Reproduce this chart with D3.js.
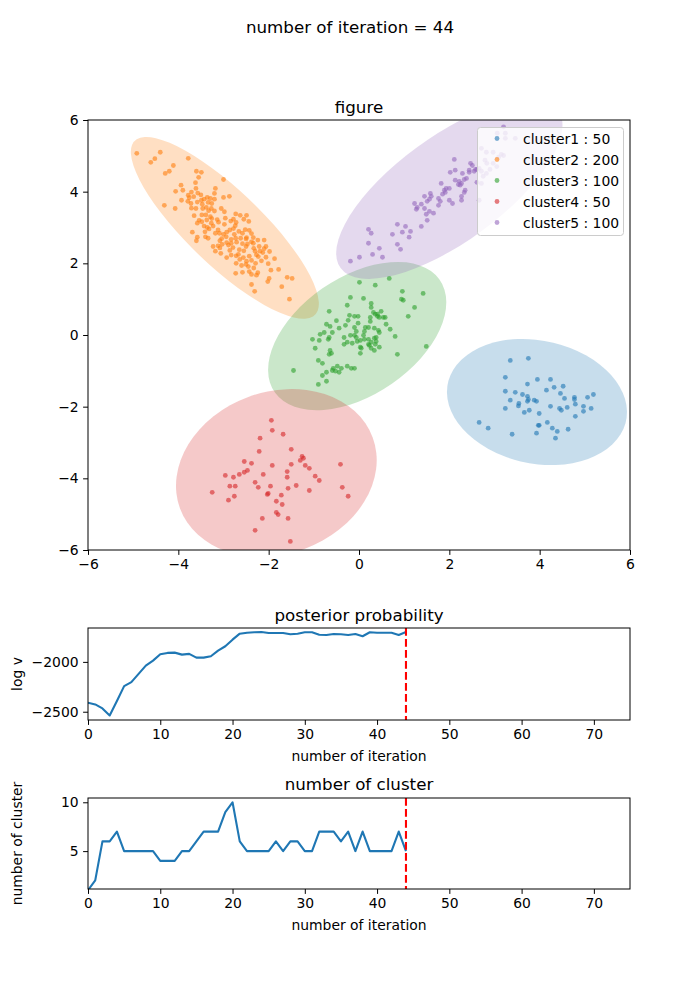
<!DOCTYPE html>
<html><head><meta charset="utf-8">
<script src="https://cdn.jsdelivr.net/npm/d3@7"></script>
<style>body{margin:0;background:#fff}text{font-family:"DejaVu Sans",sans-serif}</style>
</head><body>
<script>
// ---------------- data ----------------
const iterationNow = 44;
const clusterNames = ["cluster1", "cluster2", "cluster3", "cluster4", "cluster5"];
const clusterCounts = [50, 200, 100, 50, 100];
const clusterColors = ["#1f77b4", "#ff7f0e", "#2ca02c", "#d62728", "#9467bd"];

const cluster1Points = [[3.35,-0.71],[3.75,-0.65],[3.24,-1.18],[3.73,-1.37],[3.95,-1.24],[4.24,-1.24],[3.24,-1.57],[3.46,-1.60],[3.62,-1.66],[3.73,-1.71],[4.15,-1.54],[4.32,-1.46],[4.52,-1.43],[4.46,-1.63],[3.35,-1.82],[3.54,-1.91],[3.73,-1.85],[3.75,-1.80],[3.88,-1.82],[3.93,-1.85],[4.55,-1.77],[4.77,-1.74],[4.77,-1.80],[5.06,-1.74],[5.19,-1.66],[3.24,-2.05],[3.53,-1.98],[3.66,-2.16],[3.77,-2.10],[3.99,-2.19],[4.24,-1.99],[4.44,-2.05],[4.48,-2.10],[4.61,-2.02],[4.79,-1.93],[4.97,-1.99],[5.14,-2.05],[4.97,-2.13],[4.79,-2.27],[2.66,-2.44],[2.86,-2.60],[3.39,-2.77],[3.93,-2.74],[3.97,-2.52],[3.99,-2.52],[4.17,-2.44],[4.28,-2.60],[4.39,-2.69],[4.63,-2.63],[4.35,-2.88]];

const cluster2Points = [[-4.92,5.07],[-4.61,4.82],[-4.52,4.92],[-4.40,5.10],[-4.29,4.51],[-4.20,4.57],[-4.11,4.73],[-3.78,4.93],[-3.60,4.57],[-3.49,4.54],[-3.55,4.40],[-3.62,4.25],[-3.00,4.34],[-3.94,4.18],[-4.06,4.01],[-3.90,4.04],[-3.93,3.76],[-3.78,3.90],[-3.76,3.83],[-3.71,3.99],[-3.61,4.09],[-3.57,3.96],[-3.66,3.86],[-3.58,3.71],[-3.72,3.67],[-3.49,3.76],[-3.43,3.79],[-3.36,3.84],[-3.34,3.70],[-3.29,3.81],[-3.20,3.95],[-3.18,4.09],[-3.20,3.79],[-3.26,3.67],[-3.38,3.56],[-3.46,3.53],[-3.33,3.47],[-3.20,3.46],[-3.05,3.53],[-3.00,3.84],[-2.87,3.87],[-4.07,3.53],[-4.31,3.62],[-3.65,3.33],[-3.48,3.35],[-3.54,3.20],[-3.58,3.12],[-3.37,3.21],[-3.29,3.30],[-3.27,3.12],[-3.43,3.04],[-3.36,3.00],[-3.32,2.96],[-3.23,3.04],[-3.14,3.22],[-2.96,3.26],[-2.98,3.09],[-2.86,2.93],[-2.84,3.18],[-2.72,3.14],[-2.63,3.34],[-2.55,3.23],[-2.49,3.34],[-2.44,3.17],[-3.69,2.87],[-3.58,2.73],[-3.40,2.74],[-3.12,2.93],[-3.18,2.84],[-3.09,2.84],[-3.00,2.81],[-2.93,2.87],[-2.78,2.97],[-2.76,2.81],[-2.74,3.05],[-2.66,2.89],[-2.58,2.84],[-2.52,2.94],[-2.43,2.92],[-2.38,2.83],[-2.34,2.72],[-2.49,2.72],[-2.62,2.70],[-2.73,2.70],[-2.83,2.67],[-2.94,2.74],[-3.04,2.69],[-3.23,2.47],[-3.12,2.49],[-3.03,2.53],[-2.93,2.58],[-2.83,2.56],[-2.71,2.59],[-2.58,2.55],[-2.50,2.47],[-2.38,2.60],[-2.34,2.56],[-2.24,2.65],[-2.10,2.65],[-2.21,2.47],[-2.06,2.47],[-1.98,2.33],[-2.13,2.30],[-2.27,2.24],[-2.43,2.20],[-2.55,2.35],[-2.65,2.38],[-2.79,2.44],[-2.86,2.36],[-3.06,2.28],[-3.18,2.34],[-3.08,2.43],[-2.93,2.16],[-2.72,2.21],[-2.56,2.16],[-2.50,1.97],[-2.60,1.94],[-2.72,2.00],[-2.38,2.08],[-2.23,2.19],[-2.06,2.17],[-1.87,2.13],[-2.01,1.99],[-1.95,1.81],[-1.78,1.83],[-2.33,1.87],[-2.43,1.77],[-2.58,1.75],[-2.73,1.72],[-2.38,1.69],[-2.27,1.67],[-2.24,1.74],[-1.99,1.58],[-2.02,1.49],[-1.59,1.61],[-1.48,1.58],[-1.71,1.35],[-2.38,1.41],[-2.31,1.22],[-1.54,1.00],[-2.19,2.34],[-2.10,2.41],[-2.33,2.42],[-2.30,2.34],[-3.08,2.63],[-3.34,2.70],[-3.48,3.16],[-3.61,3.53],[-3.26,3.25],[-2.98,3.44],[-2.78,3.23],[-2.73,3.38],[-3.60,2.63],[-3.41,2.88],[-3.39,3.35],[-3.79,3.73],[-3.71,3.54],[-3.50,3.91],[-3.47,3.65],[-3.27,3.53],[-3.11,3.15],[-2.89,2.51],[-2.50,2.68],[-2.47,2.54],[-2.67,2.25],[-2.49,2.06],[-2.29,2.00],[-2.16,2.07],[-2.45,1.91],[-2.64,2.11],[-2.83,2.23]];

const cluster3Points = [[0.01,1.47],[0.36,1.39],[0.67,1.58],[0.96,1.22],[1.42,1.16],[-0.19,1.05],[0.10,1.02],[-0.26,0.83],[0.27,0.88],[0.94,1.00],[0.98,0.97],[1.23,0.77],[-0.66,0.66],[0.27,0.77],[0.49,0.66],[0.36,0.58],[0.41,0.52],[0.45,0.49],[0.54,0.49],[0.58,0.49],[0.25,0.49],[1.09,0.52],[-0.21,0.55],[-0.10,0.52],[-0.02,0.52],[-0.24,0.41],[0.25,0.38],[-0.72,0.30],[-0.64,0.24],[-0.44,0.19],[-0.30,0.27],[-0.10,0.21],[-0.02,0.33],[0.14,0.21],[0.34,0.19],[0.43,0.13],[0.69,0.16],[-0.86,0.02],[-0.77,0.07],[-0.66,-0.07],[-0.59,0.07],[-0.33,-0.07],[-0.19,-0.01],[-0.06,0.10],[-0.06,-0.07],[0.12,0.10],[0.21,0.21],[0.03,-0.15],[0.12,-0.12],[0.21,-0.12],[0.34,-0.09],[0.38,-0.07],[0.45,0.07],[-1.03,-0.12],[-0.88,-0.15],[-0.68,-0.12],[-0.33,-0.26],[-0.26,-0.20],[-0.15,-0.23],[-0.04,-0.18],[0.21,-0.26],[0.27,-0.20],[0.36,-0.26],[0.38,-0.18],[0.05,-0.37],[0.27,-0.37],[0.34,-0.43],[0.45,-0.34],[0.80,-0.04],[-0.97,-0.37],[-0.64,-0.43],[-0.61,-0.51],[-0.66,-0.54],[0.03,-0.51],[0.85,-0.54],[1.49,-0.32],[-0.90,-0.71],[-0.81,-0.79],[-0.48,-0.87],[-0.39,-0.93],[-0.26,-0.87],[-0.17,-0.93],[-0.10,-0.93],[-0.57,-0.93],[-0.52,-1.01],[-0.44,-1.04],[-0.59,-0.99],[-0.72,-1.04],[-0.81,-1.13],[-0.72,-1.29],[-0.90,-1.38],[-1.45,-0.99],[0.03,-0.34],[0.23,-0.29],[0.41,0.58],[0.32,0.63],[-0.10,-0.01],[0.10,-0.01],[-0.50,0.40],[0.60,0.30]];

const cluster4Points = [[-1.94,-2.38],[-1.92,-2.66],[-1.68,-2.77],[-2.19,-2.88],[-2.21,-3.25],[-1.50,-3.19],[-2.54,-3.53],[-2.38,-3.58],[-1.92,-3.64],[-1.50,-3.61],[-1.30,-3.50],[-1.26,-3.39],[-1.23,-3.44],[-1.19,-3.64],[-1.10,-3.72],[-0.41,-3.61],[-2.96,-3.92],[-2.78,-3.97],[-2.65,-3.89],[-2.54,-3.83],[-2.47,-3.78],[-2.12,-3.89],[-1.59,-3.81],[-1.59,-3.97],[-0.97,-3.94],[-0.88,-4.06],[-2.30,-4.11],[-2.23,-4.25],[-1.96,-4.22],[-1.57,-4.28],[-1.39,-4.20],[-1.10,-4.34],[-0.37,-4.25],[-3.25,-4.39],[-2.86,-4.22],[-2.74,-4.22],[-2.76,-4.50],[-2.89,-4.61],[-2.03,-4.45],[-2.01,-4.42],[-1.72,-4.47],[-1.83,-4.64],[-1.70,-4.73],[-0.24,-4.50],[-1.83,-4.95],[-1.79,-5.01],[-1.57,-5.12],[-2.14,-5.12],[-2.30,-5.45],[-1.52,-5.76]];

const cluster5Points = [[-0.19,2.06],[0.01,2.17],[0.30,2.25],[0.52,2.17],[0.45,2.42],[0.21,2.56],[0.21,2.95],[0.27,2.84],[0.74,2.81],[0.85,3.09],[1.03,3.03],[0.96,2.87],[1.11,2.73],[1.14,2.89],[0.85,2.53],[0.92,2.39],[1.23,3.67],[1.29,3.56],[1.27,3.51],[1.38,3.65],[1.45,3.53],[1.45,3.87],[1.51,3.73],[1.49,3.37],[1.56,3.45],[1.51,3.20],[1.65,3.40],[1.38,3.03],[1.58,3.95],[1.60,3.87],[1.56,3.79],[1.76,3.81],[1.80,3.73],[1.76,3.62],[1.85,3.93],[1.89,4.04],[1.93,4.09],[2.00,4.09],[1.91,3.98],[1.82,4.23],[2.00,3.76],[2.07,3.67],[2.27,3.87],[2.27,3.76],[2.35,4.04],[2.33,3.98],[2.13,4.32],[2.22,4.29],[2.20,4.20],[2.27,4.23],[2.33,4.34],[2.38,4.37],[2.29,4.51],[2.13,4.60],[2.02,4.54],[2.11,4.90],[2.44,4.54],[2.47,4.79],[2.51,4.73],[2.55,4.57],[2.58,4.62],[2.44,4.60],[2.61,4.62],[2.66,4.65],[2.61,4.26],[2.71,4.57],[2.24,4.18],[2.66,3.76],[2.71,4.23],[2.75,4.43],[2.82,5.10],[2.97,5.10],[2.71,5.21],[2.82,4.51],[2.90,4.62],[3.09,4.96],[3.15,5.04],[3.20,5.01],[3.24,5.49],[3.20,5.81],[3.06,5.63],[3.24,5.63],[3.46,5.49],[2.83,4.79],[2.97,4.79],[3.05,4.70],[2.79,4.88]];

const clusterPoints = [cluster1Points, cluster2Points, cluster3Points, cluster4Points, cluster5Points];

// ellipse: centre x, centre y, semi-major, semi-minor, angle (deg)
const ellipseCx = [3.94, -2.97, -0.04, -1.83, 2.0];
const ellipseCy = [-1.87, 2.99, -0.03, -3.85, 4.07];
const ellipseA = [2.06, 3.15, 2.44, 2.46, 3.28];
const ellipseB = [1.68, 0.92, 1.49, 2.09, 1.34];
const ellipseAngle = [-26, -51.7, 48, 54.5, 45];

const iterations = d3.range(0, 45);
const logV = [-2410,-2427,-2467,-2537,-2393,-2243,-2203,-2120,-2037,-1987,-1923,-1910,-1907,-1927,-1920,-1957,-1957,-1943,-1887,-1843,-1777,-1717,-1707,-1703,-1700,-1710,-1710,-1710,-1723,-1717,-1703,-1703,-1727,-1730,-1720,-1723,-1730,-1720,-1743,-1703,-1707,-1707,-1707,-1730,-1700];
const numClusters = [1,2,6,6,7,5,5,5,5,5,4,4,4,5,5,6,7,7,7,9,10,6,5,5,5,5,6,5,6,6,5,5,7,7,7,6,7,5,7,5,5,5,5,7,5];

const scatterTicks = [-6, -4, -2, 0, 2, 4, 6];
const iterTicks = [0, 10, 20, 30, 40, 50, 60, 70];
const logVTicks = [-2500, -2000];
const clusterTicks = [5, 10];

// ---------------- drawing ----------------
const W = 700, H = 1000;
const svg = d3.select("body").append("svg").attr("width", W).attr("height", H);
svg.append("rect").attr("width", W).attr("height", H).attr("fill", "#fff");

const FS = 13.9;
function styleAxis(g) {
  g.selectAll("path.domain").remove();
  g.selectAll(".tick line").attr("stroke", "#000").attr("stroke-width", 1);
  g.selectAll(".tick text").attr("font-size", FS).attr("fill", "#000").attr("font-family", "DejaVu Sans");
}
function frame(x0, y0, x1, y1) {
  svg.append("rect").attr("x", x0).attr("y", y0).attr("width", x1 - x0).attr("height", y1 - y0)
    .attr("fill", "none").attr("stroke", "#000").attr("stroke-width", 1);
}

svg.append("text").attr("x", 350).attr("y", 33).attr("text-anchor", "middle").attr("font-size", 16.7)
  .text("number of iteration = " + iterationNow);

// ---- scatter ----
const L = 88, R = 630, T1 = 120, B1 = 550;
const sx = d3.scaleLinear().domain([-6, 6]).range([L, R]);
const sy = d3.scaleLinear().domain([-6, 6]).range([B1, T1]);
svg.append("clipPath").attr("id", "clip1").append("rect").attr("x", L).attr("y", T1).attr("width", R - L).attr("height", B1 - T1);
const plot = svg.append("g").attr("clip-path", "url(#clip1)");

const kx = sx(1) - sx(0), ky = sy(1) - sy(0);
clusterPoints.forEach((pts, i) => {
  plot.append("g").selectAll("circle").data(pts).join("circle")
    .attr("cx", d => sx(d[0])).attr("cy", d => sy(d[1])).attr("r", 2.4)
    .attr("fill", clusterColors[i]).attr("fill-opacity", 0.6);
});
clusterPoints.forEach((pts, i) => {
  const phi = ellipseAngle[i] * Math.PI / 180;
  const ux = ellipseA[i] * Math.cos(phi), uy = ellipseA[i] * Math.sin(phi);
  const vx = -ellipseB[i] * Math.sin(phi), vy = ellipseB[i] * Math.cos(phi);
  plot.append("circle").attr("r", 1)
    .attr("transform", `matrix(${ux * kx},${uy * ky},${vx * kx},${vy * ky},${sx(ellipseCx[i])},${sy(ellipseCy[i])})`)
    .attr("fill", clusterColors[i]).attr("fill-opacity", 0.25);
});
svg.append("g").attr("transform", `translate(0,${B1})`).call(d3.axisBottom(sx).tickValues(scatterTicks).tickSize(4.9).tickPadding(4.5)).call(styleAxis);
svg.append("g").attr("transform", `translate(${L},0)`).call(d3.axisLeft(sy).tickValues(scatterTicks).tickSize(4.9).tickPadding(4.5)).call(styleAxis);
frame(L, T1, R, B1);
svg.append("text").attr("x", (L + R) / 2).attr("y", 113).attr("text-anchor", "middle").attr("font-size", 16.7).text("figure");

// legend
const lg = svg.append("g");
lg.append("rect").attr("x", 477.5).attr("y", 127.5).attr("width", 146).attr("height", 108).attr("rx", 3)
  .attr("fill", "#fff").attr("fill-opacity", 0.8).attr("stroke", "#cccccc").attr("stroke-width", 1);
clusterNames.forEach((n, i) => {
  const yy = 138.5 + i * 21;
  lg.append("circle").attr("cx", 497).attr("cy", yy).attr("r", 2.4).attr("fill", clusterColors[i]).attr("fill-opacity", 0.6);
  lg.append("text").attr("x", 523).attr("y", yy + 5).attr("font-size", FS).text(n + " : " + clusterCounts[i]);
});

// ---- posterior probability ----
const T2 = 628, B2 = 720;
const ix = d3.scaleLinear().domain([0, 75]).range([L, R]);
const ly = d3.scaleLinear().domain([-2583, -1660]).range([B2, T2]);
svg.append("clipPath").attr("id", "clip2").append("rect").attr("x", L).attr("y", T2).attr("width", R - L).attr("height", B2 - T2);
svg.append("path").datum(iterations).attr("clip-path", "url(#clip2)")
  .attr("d", d3.line().x(d => ix(d)).y(d => ly(logV[d])))
  .attr("fill", "none").attr("stroke", "#1f77b4").attr("stroke-width", 2.1).attr("stroke-linejoin", "round");
svg.append("line").attr("x1", ix(iterationNow)).attr("x2", ix(iterationNow)).attr("y1", T2).attr("y2", B2)
  .attr("stroke", "#ff0000").attr("stroke-width", 2.1).attr("stroke-dasharray", "7.7,3.3");
svg.append("g").attr("transform", `translate(0,${B2})`).call(d3.axisBottom(ix).tickValues(iterTicks).tickSize(4.9).tickPadding(4.5)).call(styleAxis);
svg.append("g").attr("transform", `translate(${L},0)`).call(d3.axisLeft(ly).tickValues(logVTicks).tickFormat(d => "\u2212" + Math.abs(d)).tickSize(4.9).tickPadding(4.5)).call(styleAxis);
frame(L, T2, R, B2);
svg.append("text").attr("x", (L + R) / 2).attr("y", 621).attr("text-anchor", "middle").attr("font-size", 16.7).text("posterior probability");
svg.append("text").attr("x", (L + R) / 2).attr("y", 761).attr("text-anchor", "middle").attr("font-size", FS).text("number of iteration");
svg.append("text").attr("transform", `translate(22,${(T2 + B2) / 2}) rotate(-90)`).attr("text-anchor", "middle").attr("font-size", FS).text("log v");

// ---- number of cluster ----
const T3 = 798, B3 = 889;
const cy = d3.scaleLinear().domain([1.12, 10.44]).range([B3, T3]);
svg.append("clipPath").attr("id", "clip3").append("rect").attr("x", L).attr("y", T3).attr("width", R - L).attr("height", B3 - T3);
svg.append("path").datum(iterations).attr("clip-path", "url(#clip3)")
  .attr("d", d3.line().x(d => ix(d)).y(d => cy(numClusters[d])))
  .attr("fill", "none").attr("stroke", "#1f77b4").attr("stroke-width", 2.1).attr("stroke-linejoin", "round");
svg.append("line").attr("x1", ix(iterationNow)).attr("x2", ix(iterationNow)).attr("y1", T3).attr("y2", B3)
  .attr("stroke", "#ff0000").attr("stroke-width", 2.1).attr("stroke-dasharray", "7.7,3.3");
svg.append("g").attr("transform", `translate(0,${B3})`).call(d3.axisBottom(ix).tickValues(iterTicks).tickSize(4.9).tickPadding(4.5)).call(styleAxis);
svg.append("g").attr("transform", `translate(${L},0)`).call(d3.axisLeft(cy).tickValues(clusterTicks).tickSize(4.9).tickPadding(4.5)).call(styleAxis);
frame(L, T3, R, B3);
svg.append("text").attr("x", (L + R) / 2).attr("y", 790).attr("text-anchor", "middle").attr("font-size", 16.7).text("number of cluster");
svg.append("text").attr("x", (L + R) / 2).attr("y", 930).attr("text-anchor", "middle").attr("font-size", FS).text("number of iteration");
svg.append("text").attr("transform", `translate(22,${(T3 + B3) / 2}) rotate(-90)`).attr("text-anchor", "middle").attr("font-size", FS).text("number of cluster");
</script>
</body></html>
